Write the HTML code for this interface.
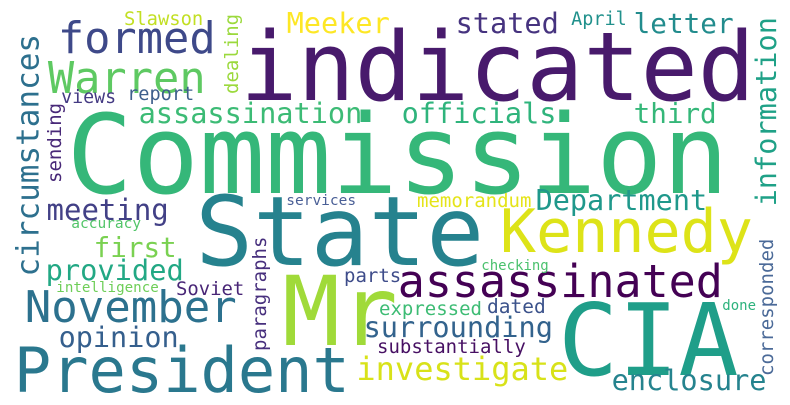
<!DOCTYPE html>
<html><head><meta charset="utf-8"><style>
html,body{margin:0;padding:0;background:#fff;}
svg{display:block;}
text{font-family:"DejaVu Sans Mono","Liberation Mono",monospace;}
</style></head><body>
<svg width="790" height="405" viewBox="0 0 790 405">
<rect width="790" height="405" fill="#fff"/>
<g id="words"></g>
</svg>
<script>
const words=["indicated","Commission","State","Mr","CIA","Kennedy","President","November","assassinated","investigate","enclosure","surrounding","substantially","expressed","dated","parts","checking","done","Department","memorandum","officials","third","assassination","stated","April","letter","Meeker","Slawson","formed","Warren","views","report","services","meeting","accuracy","first","provided","intelligence","Soviet","opinion","circumstances","sending","dealing","information","paragraphs","corresponded"];
const sizes=[95,110,96,96,100,60,62,44,45,32,28.6,28.6,19,19,19.5,19,14,14,28.5,19,28.6,27.6,28.6,28.6,18.5,27.7,28.6,18.8,43.7,43.7,18.3,18.6,14.5,29,14.5,27.6,28.7,14.2,18.9,28.5,31,19,19,28.6,19,19];
const lefts=[245,72,200,287,563,503,17,27,400,358,613,365,378,380,488,345,482,723,537,418,403,635,140,457,572,635,288,125,60,50,62,128,287,48,72,95,47,57,177,60,38.5,61,238,776,266,773];
const bases=[100,193,265,345,375,252,392,322,297,380,390,337,353,315,313,282,270,310,210,207,123,123,123,33,25,33,33,25,53,93,103,100,205,220,228,257,280,292,295,347,275,182,93,205,350,375];
const vertical=[0,0,0,0,0,0,0,0,0,0,0,0,0,0,0,0,0,0,0,0,0,0,0,0,0,0,0,0,0,0,0,0,0,0,0,0,0,0,0,0,1,1,1,1,1,1];
const colors=["#481a6c","#35b779","#26828e","#a0da39","#1f9e89","#dde318","#2a788e","#2c718e","#440154","#d8e219","#25838e","#33638d","#471063","#3dbc74","#3b528b","#3e4c8a","#4ac16d","#2db27d","#1f988b","#e5e419","#2fb47c","#35b779","#3cbb75","#46337f","#21918c","#228c8d","#fde725","#c2df23","#3e4989","#5ec962","#443a83","#3e5f8c","#4a5f96","#424086","#52c569","#7ad151","#22a884","#6ece58","#482576","#355f8d","#2d708e","#482878","#9bd93c","#1fa187","#472f7d","#4b6a98"];
const g=document.getElementById('words');
const NS="http://www.w3.org/2000/svg";
for(let i=0;i<words.length;i++){
  const t=document.createElementNS(NS,'text');
  
  
  const s=sizes[i];
  t.setAttribute('font-size',s);
  t.setAttribute('fill',colors[i]);
  if(vertical[i]){
    t.setAttribute('transform','translate('+lefts[i]+','+(bases[i]+0.05*s)+') rotate(-90)');
    t.setAttribute('x',0);t.setAttribute('y',0);
  }else{
    t.setAttribute('x',lefts[i]-0.05*s);
    t.setAttribute('y',bases[i]);
  }
  t.textContent=words[i];
  g.appendChild(t);
}
</script>
</body></html>
